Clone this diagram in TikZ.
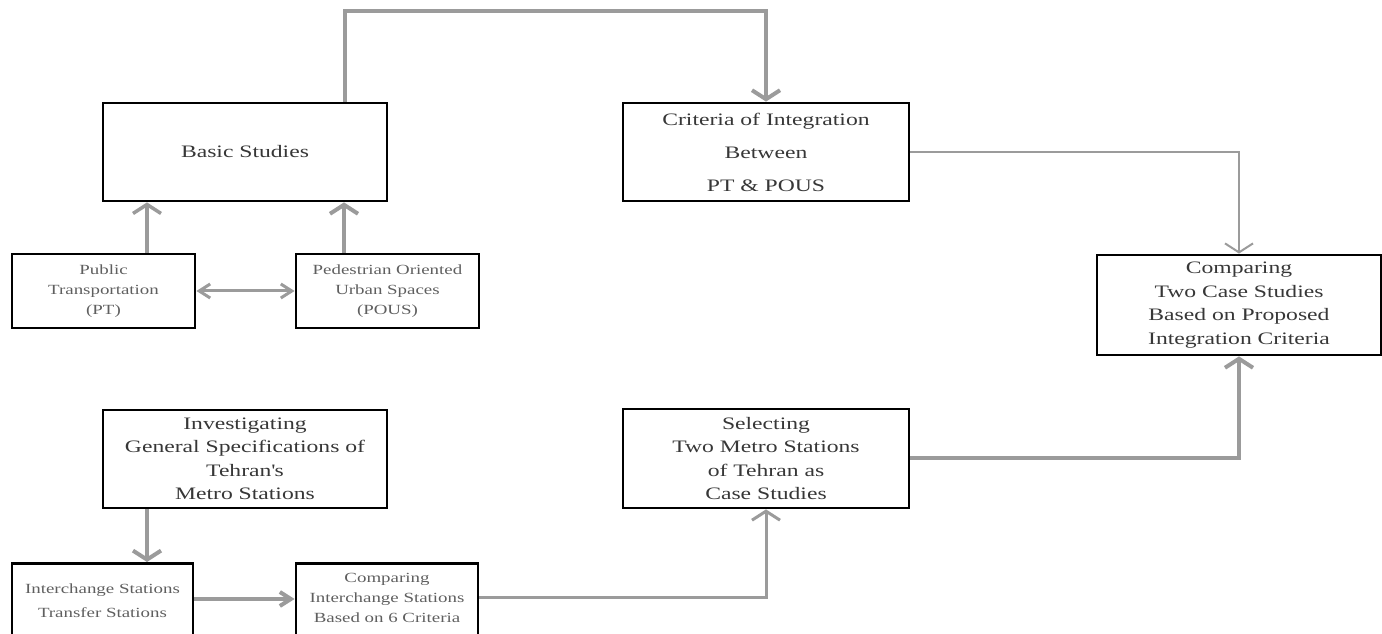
\documentclass[tikz,border=0pt]{standalone}
\usepackage{fontspec}
\setmainfont{Liberation Serif}[FakeStretch=1.35]
\usetikzlibrary{arrows.meta}
\definecolor{linegray}{RGB}{155,155,155}
\definecolor{bigtext}{RGB}{55,55,55}
\definecolor{smalltext}{RGB}{95,95,95}

\begin{document}
\begin{tikzpicture}[x=1pt,y=1pt,
  bigbox/.style={draw=black, line width=2.8pt, align=center, text=bigtext, inner sep=0pt, font=\fontsize{17.5}{23.5}\selectfont},
  smallbox/.style={draw=black, line width=2.8pt, align=center, text=smalltext, inner sep=0pt, minimum width=183pt, minimum height=74pt, font=\fontsize{14}{20}\selectfont},
  arr/.style={draw=linegray, line width=4pt, -{Straight Barb[length=9pt,width=28pt]}},
  shortarr/.style={draw=linegray, line width=4pt, -{Straight Barb[length=11pt,width=14pt]}}]
\useasboundingbox (0,0) rectangle (1382,634);
\clip (0,0) rectangle (1382,634);
% boxes
\node[bigbox, minimum width=284pt, minimum height=98pt] (basic) at (245,482) {Basic Studies};
\node[bigbox, minimum width=286pt, minimum height=98pt, font=\fontsize{17.5}{33}\selectfont] (crit) at (766,482) {Criteria of Integration\\Between\\PT \& POUS};
\node[smallbox] (pt) at (103.5,343) {Public\\Transportation\\(PT)};
\node[smallbox] (pous) at (387.5,343) {Pedestrian Oriented\\Urban Spaces\\(POUS)};
\node[bigbox, minimum width=284pt, minimum height=100pt] (comp) at (1239,329) {Comparing\\Two Case Studies\\Based on Proposed\\Integration Criteria};
\node[bigbox, minimum width=284pt, minimum height=98pt] (inv) at (245,175) {Investigating\\General Specifications of\\Tehran\textquotesingle s\\Metro Stations};
\node[bigbox, minimum width=286pt, minimum height=99pt] (sel) at (766,175.5) {Selecting\\Two Metro Stations\\of Tehran as\\Case Studies};
\node[smallbox, anchor=north, minimum width=181pt, minimum height=0pt, inner ysep=20pt, font=\fontsize{14}{24}\selectfont] (inter) at (102.5,72) {\parbox[t][60pt][t]{175pt}{\centering Interchange Stations\\Transfer Stations}};
\node[smallbox, anchor=north, minimum width=182pt, minimum height=0pt, inner ysep=10pt] (compint) at (387,72) {\parbox[t][60pt][t]{175pt}{\centering Comparing\\Interchange Stations\\Based on 6 Criteria}};
% connectors
\draw[arr] ([xshift=100pt]basic.north) -- ++(0,91) -| (crit.north);
\draw[arr, line width=2pt] (crit.east) -| (comp.north);
\draw[arr, line width=3.5pt] ([xshift=43.5pt]pt.north) -- ([xshift=-98pt]basic.south);
\draw[arr] ([xshift=-43.5pt]pous.north) -- ([xshift=99pt]basic.south);
\draw[draw=linegray, line width=3pt, {Straight Barb[length=11pt,width=14pt]}-{Straight Barb[length=11pt,width=14pt]}] (pt.east) -- (pous.west);
\draw[arr] ([xshift=-98pt]inv.south) -- ([xshift=44.5pt]inter.north);
\draw[shortarr] ([yshift=-37pt]inter.north east) -- ([yshift=-37pt]compint.north west);
\draw[arr, line width=3pt] ([yshift=-36pt]compint.north east) -| (sel.south);
\draw[arr] (sel.east) -| (comp.south);
\end{tikzpicture}
\end{document}
